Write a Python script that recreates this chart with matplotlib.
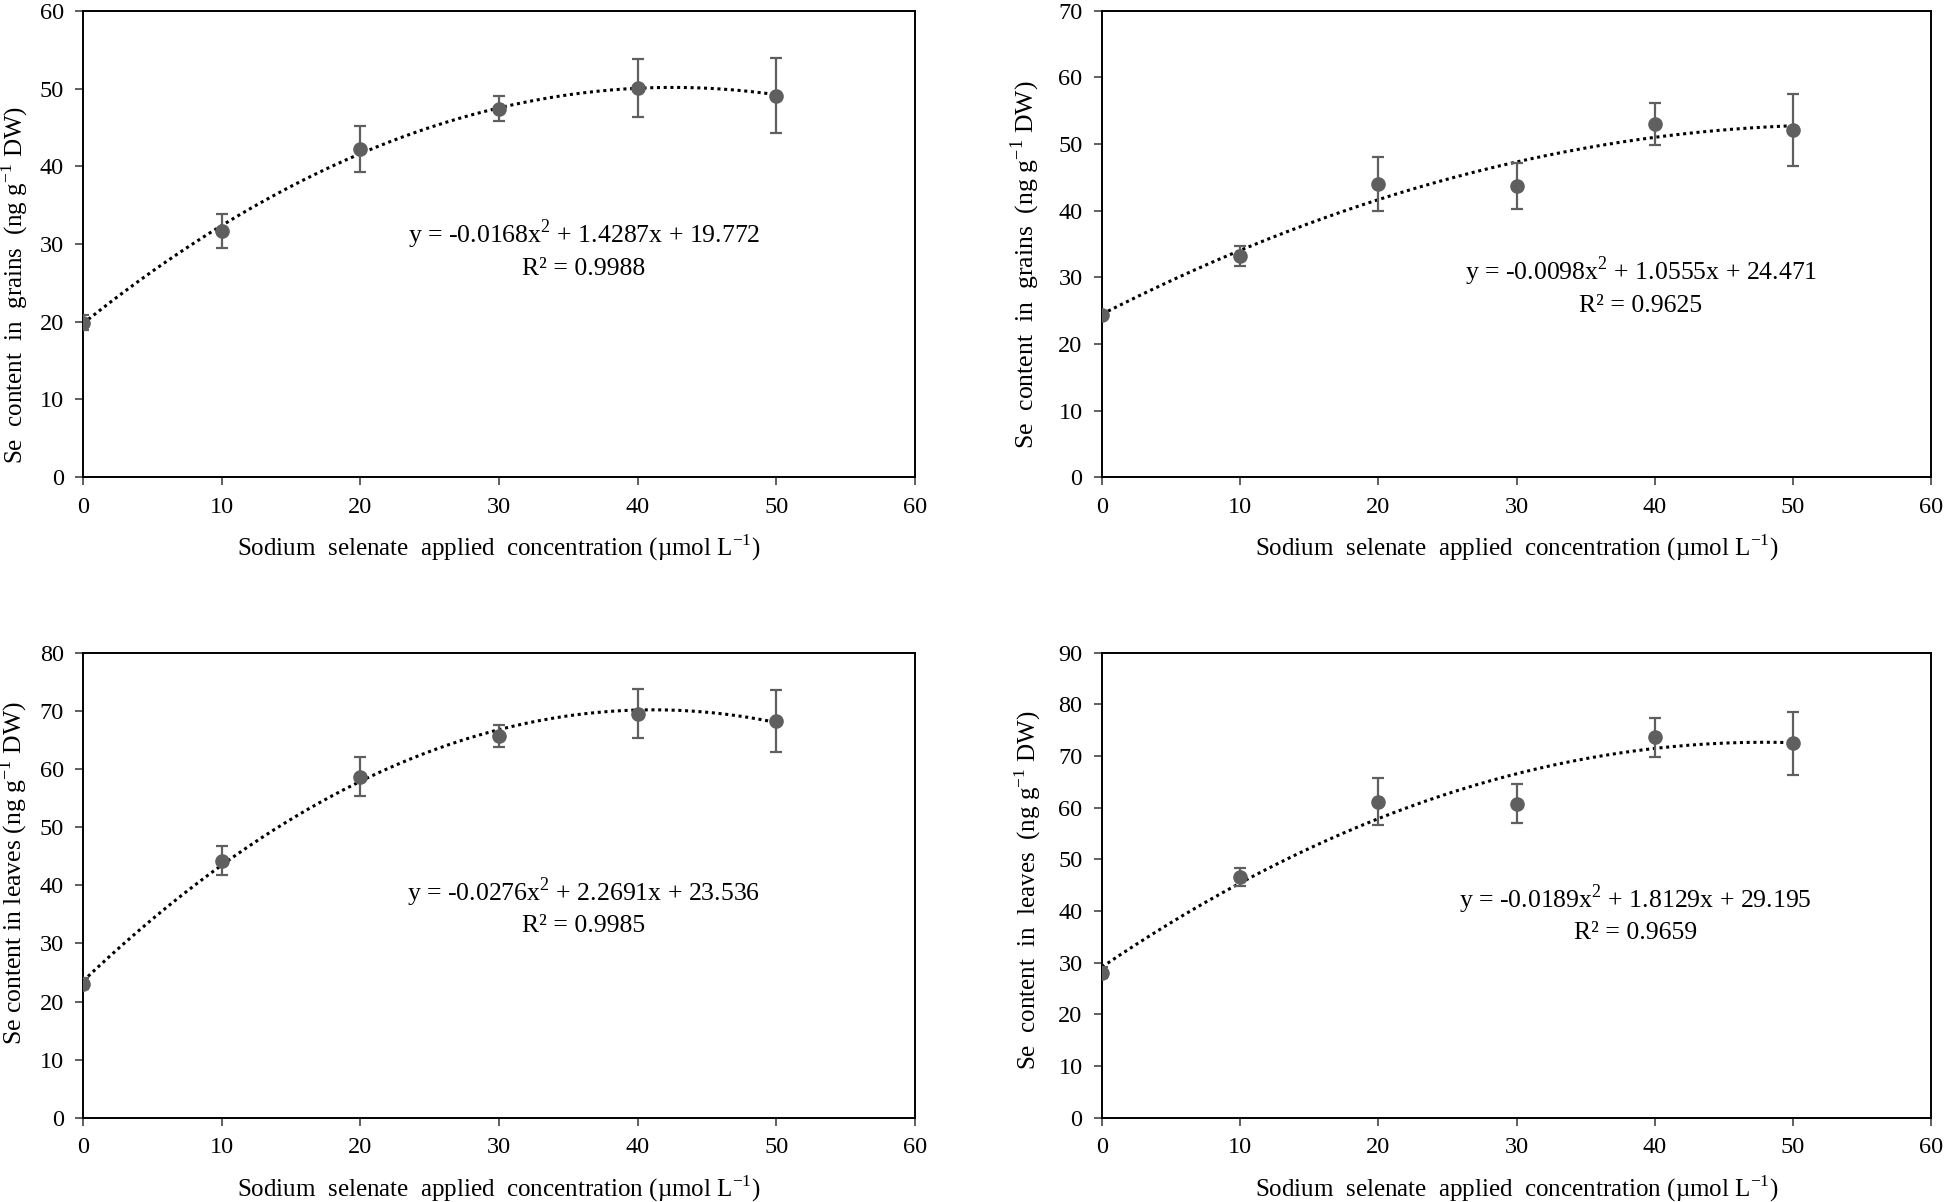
import numpy as np
import matplotlib
matplotlib.use("Agg")
import matplotlib.pyplot as plt

plt.rcParams['font.family'] = ['Liberation Serif', 'DejaVu Serif']
plt.rcParams['mathtext.fontset'] = 'custom'
plt.rcParams['mathtext.rm'] = 'Liberation Serif'

conc = [0, 10, 20, 30, 40, 50]

grains_a = [19.9, 31.7, 42.2, 47.4, 50.1, 49.1]
grains_a_err = [1.0, 2.2, 3.0, 1.6, 3.7, 4.8]
grains_b = [24.3, 33.2, 44.0, 43.7, 53.0, 52.1]
grains_b_err = [0.5, 1.5, 4.1, 3.5, 3.2, 5.4]
leaves_a = [23.1, 44.2, 58.7, 65.7, 69.5, 68.2]
leaves_a_err = [1.0, 2.5, 3.4, 1.9, 4.2, 5.3]
leaves_b = [28.1, 46.6, 61.2, 60.8, 73.6, 72.5]
leaves_b_err = [1.0, 1.8, 4.6, 3.8, 3.7, 6.1]

coef_grains_a = [-0.0168, 1.4287, 19.772]
coef_grains_b = [-0.0098, 1.0555, 24.471]
coef_leaves_a = [-0.0276, 2.2691, 23.536]
coef_leaves_b = [-0.0189, 1.8129, 29.195]

eq_texts = ["y = -0.0168x$^{2}$ + 1.4287x + 19.772\nR² = 0.9988",
            "y = -0.0098x$^{2}$ + 1.0555x + 24.471\nR² = 0.9625",
            "y = -0.0276x$^{2}$ + 2.2691x + 23.536\nR² = 0.9985",
            "y = -0.0189x$^{2}$ + 1.8129x + 29.195\nR² = 0.9659"]
ylabels = ["Se  content  in  grains  (ng g$^{-1}$ DW)",
           "Se  content  in  grains  (ng g$^{-1}$ DW)",
           "Se content in leaves (ng g$^{-1}$ DW)",
           "Se  content  in  leaves  (ng g$^{-1}$ DW)"]
xlabel = "Sodium  selenate  applied  concentration (µmol L$^{-1}$)"
ymaxes = [60, 70, 80, 90]

fig = plt.figure(figsize=(19.46, 12.02), dpi=100)
rects = [[0.0427, 0.603, 0.4275, 0.388],
         [0.5663, 0.603, 0.426, 0.388],
         [0.0427, 0.070, 0.4275, 0.387],
         [0.5663, 0.070, 0.426, 0.387]]
eq_pos = [(36.1, 0.49), (39.0, 0.41), (36.1, 0.455), (38.6, 0.44)]
ylab_pos = [(-0.064, 0.412), (-0.072, 0.455), (-0.064, 0.527), (-0.071, 0.49)]
ylab_size = [18, 18.5, 18.5, 18]

series = [(grains_a, grains_a_err, coef_grains_a),
          (grains_b, grains_b_err, coef_grains_b),
          (leaves_a, leaves_a_err, coef_leaves_a),
          (leaves_b, leaves_b_err, coef_leaves_b)]

for i, (vals, errs, coef) in enumerate(series):
    ax = fig.add_axes(rects[i])
    xs = np.linspace(0, 50, 300)
    ax.plot(xs, np.polyval(coef, xs), color='black', linestyle=(0, (1, 1.2)), linewidth=2.2, zorder=2)
    ax.errorbar(conc, vals, yerr=errs, fmt='o', color='#5f5f5f', ecolor='#5f5f5f',
                markersize=9.5, elinewidth=1.6, capsize=4.5, capthick=1.6, zorder=3)
    ax.set_xlim(0, 60)
    ax.set_ylim(0, ymaxes[i])
    ax.set_xticks(range(0, 61, 10))
    ax.set_yticks(range(0, ymaxes[i] + 1, 10))
    ax.tick_params(direction='out', length=6, width=1.2, labelsize=17.5, pad=8, color='#444444')
    for s in ax.spines.values():
        s.set_linewidth(1.4)
        s.set_color('black')
    ax.set_xlabel(xlabel, fontsize=18, labelpad=11)
    ax.set_ylabel(ylabels[i], fontsize=ylab_size[i])
    ax.yaxis.set_label_coords(*ylab_pos[i])
    ex, ey = eq_pos[i]
    ax.text(ex, ey, eq_texts[i], transform=ax.get_xaxis_transform(), ha='center', va='center',
            fontsize=18.5, linespacing=1.4)

fig.savefig("out.png", dpi=100)
